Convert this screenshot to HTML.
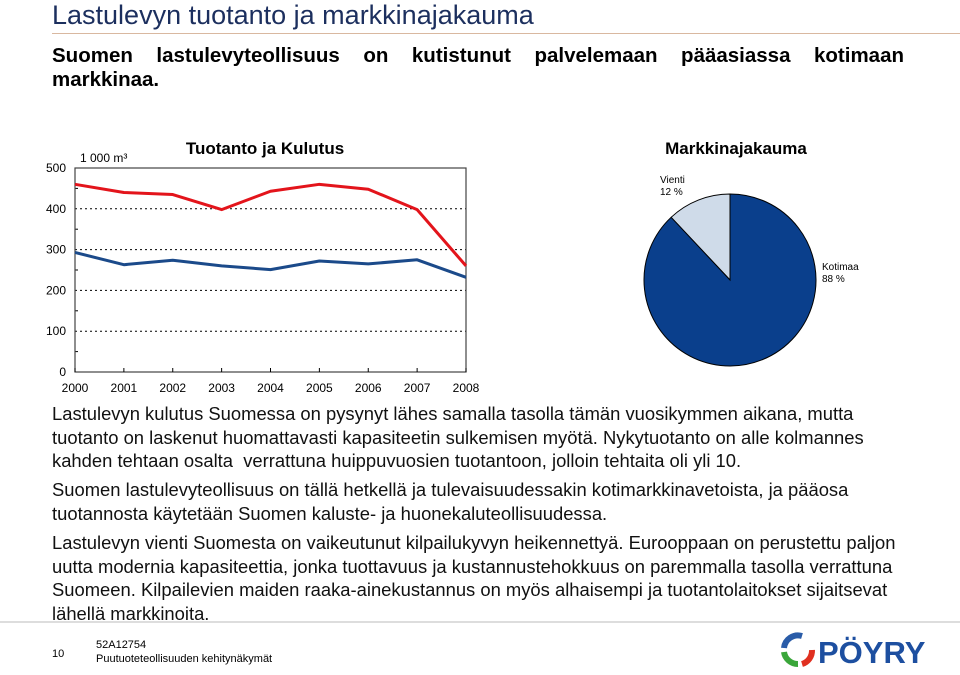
<!DOCTYPE html>
<html><head><meta charset="utf-8"><style>
body{margin:0;width:960px;height:670px;background:#fff;position:relative;overflow:hidden;font-family:"Liberation Sans",sans-serif;}
.a{position:absolute;white-space:nowrap;}
.p{position:absolute;left:52px;font-size:18.4px;color:#111;line-height:23.5px;white-space:nowrap;}
</style></head><body>
<div class="a" style="left:52px;top:0px;font-size:27px;color:#1c2f5e;">Lastulevyn tuotanto ja markkinajakauma</div>
<div class="a" style="left:52px;top:33px;width:908px;height:1px;background:#d9b8a0;"></div>
<div class="a" style="left:52px;top:44px;width:852px;font-size:20.5px;font-weight:bold;line-height:24px;white-space:normal;text-align:justify;text-align-last:left;">Suomen lastulevyteollisuus on kutistunut palvelemaan pääasiassa kotimaan markkinaa.</div>

<svg class="a" style="left:0;top:0" width="960" height="400">
<g id="lc"></g>
<g id="pc"></g>
</svg>

<div class="p" style="top:402px">Lastulevyn kulutus Suomessa on pysynyt lähes samalla tasolla tämän vuosikymmen aikana, mutta<br>tuotanto on laskenut huomattavasti kapasiteetin sulkemisen myötä. Nykytuotanto on alle kolmannes<br>kahden tehtaan osalta&nbsp; verrattuna huippuvuosien tuotantoon, jolloin tehtaita oli yli 10.</div>
<div class="p" style="top:478px">Suomen lastulevyteollisuus on tällä hetkellä ja tulevaisuudessakin kotimarkkinavetoista, ja pääosa<br>tuotannosta käytetään Suomen kaluste- ja huonekaluteollisuudessa.</div>
<div class="p" style="top:531px">Lastulevyn vienti Suomesta on vaikeutunut kilpailukyvyn heikennettyä. Eurooppaan on perustettu paljon<br>uutta modernia kapasiteettia, jonka tuottavuus ja kustannustehokkuus on paremmalla tasolla verrattuna<br>Suomeen. Kilpailevien maiden raaka-ainekustannus on myös alhaisempi ja tuotantolaitokset sijaitsevat<br>lähellä markkinoita.</div>

<div class="a" style="left:0;top:621px;width:960px;height:2px;background:#ddd;"></div>
<div class="a" style="left:52px;top:648px;font-size:11px;">10</div>
<div class="a" style="left:96px;top:638px;font-size:11px;line-height:14px;">52A12754<br>Puutuoteteollisuuden kehitynäkymät</div>
<div class="a" style="left:778px;top:630px;">
<svg width="180" height="40"><path d="M24 6 A14 14 0 0 0 6 18" stroke="#2a5ca8" stroke-width="6" fill="none"/><path d="M6 22 A14 14 0 0 0 20 34" stroke="#3aa63a" stroke-width="6" fill="none"/><path d="M24 34 A14 14 0 0 0 34 20" stroke="#e03020" stroke-width="6" fill="none"/>
<text x="40" y="33" font-family="Liberation Sans" font-weight="bold" font-size="31" fill="#1d4fa0">PÖYRY</text></svg></div>

<script>
const years=["2000","2001","2002","2003","2004","2005","2006","2007","2008"];
const production=[460,440,435,398,443,460,448,398,260];
const consumption=[293,263,274,260,251,272,265,275,232];
const yTicks=[0,100,200,300,400,500];
const pieLabels=["Vienti","Kotimaa"];
const pieValues=[12,88];
const NS="http://www.w3.org/2000/svg";
function mk(p,t,a){const e=document.createElementNS(NS,t);for(const k in a)e.setAttribute(k,a[k]);p.appendChild(e);return e;}
const lc=document.getElementById('lc');
const X0=75,X1=466,Y0=372,Y1=168;
const xs=i=>X0+(X1-X0)*i/(years.length-1);
const ys=v=>Y0-(Y0-Y1)*v/500;
yTicks.forEach(v=>{
 if(v>0){const g=mk(lc,'line',{x1:X0,x2:X1,y1:ys(v),y2:ys(v),stroke:'#000','stroke-dasharray':'2,3','stroke-width':1});
 }
 const t=mk(lc,'text',{x:X0-9,y:ys(v)+4,'text-anchor':'end','font-size':12,'font-family':'Liberation Sans'});t.textContent=v;
 
});
for(let v=50;v<500;v+=100){mk(lc,'line',{x1:X0,x2:X0+3,y1:ys(v),y2:ys(v),stroke:'#000'});}
mk(lc,'rect',{x:X0,y:Y1,width:X1-X0,height:Y0-Y1,fill:'none',stroke:'#444','stroke-width':1.2});
years.forEach((y,i)=>{
 mk(lc,'line',{x1:xs(i),x2:xs(i),y1:Y0,y2:Y0-4,stroke:'#000'});
 const t=mk(lc,'text',{x:xs(i),y:Y0+20,'text-anchor':'middle','font-size':12,'font-family':'Liberation Sans'});t.textContent=y;
 
});
const l1=mk(lc,'polyline',{points:production.map((v,i)=>xs(i)+','+ys(v)).join(' '),fill:'none',stroke:'#e3141b','stroke-width':3,'stroke-linejoin':'round'});

const l2=mk(lc,'polyline',{points:consumption.map((v,i)=>xs(i)+','+ys(v)).join(' '),fill:'none',stroke:'#1b4a8a','stroke-width':3,'stroke-linejoin':'round'});

let t=mk(lc,'text',{x:80,y:162,'font-size':12,'font-family':'Liberation Sans'});t.textContent='1 000 m³';

t=mk(lc,'text',{x:265,y:154,'text-anchor':'middle','font-size':17,'font-weight':'bold','font-family':'Liberation Sans'});t.textContent='Tuotanto ja Kulutus';


const pc=document.getElementById('pc');
const cx=730,cy=280,r=86;
t=mk(pc,'text',{x:cx+6,y:154,'text-anchor':'middle','font-size':17,'font-weight':'bold','font-family':'Liberation Sans'});t.textContent='Markkinajakauma';

const tot=pieValues.reduce((a,b)=>a+b,0);
const cols=['#cfdbe9','#0a3f8c'];
let start=0;
pieValues.forEach((v,i)=>{
 const a0=-start/tot*2*Math.PI, a1=-(start+v)/tot*2*Math.PI;
 const p=(a)=>[cx+r*Math.sin(a),cy-r*Math.cos(a)];
 const [x0,y0]=p(a0),[x1,y1]=p(a1);
 const large=v/tot>0.5?1:0;
 const s=mk(pc,'path',{d:`M${cx},${cy} L${x0},${y0} A${r},${r} 0 ${large} 0 ${x1},${y1} Z`,fill:cols[i],stroke:'#000','stroke-width':1});
 
 start+=v;
});
t=mk(pc,'text',{x:660,y:183,'font-size':10,'font-family':'Liberation Sans'});t.textContent=pieLabels[0];

t=mk(pc,'text',{x:660,y:195,'font-size':10,'font-family':'Liberation Sans'});t.textContent=pieValues[0]+' %';
t=mk(pc,'text',{x:822,y:270,'font-size':10,'font-family':'Liberation Sans'});t.textContent=pieLabels[1];

t=mk(pc,'text',{x:822,y:282,'font-size':10,'font-family':'Liberation Sans'});t.textContent=pieValues[1]+' %';
</script>
</body></html>
